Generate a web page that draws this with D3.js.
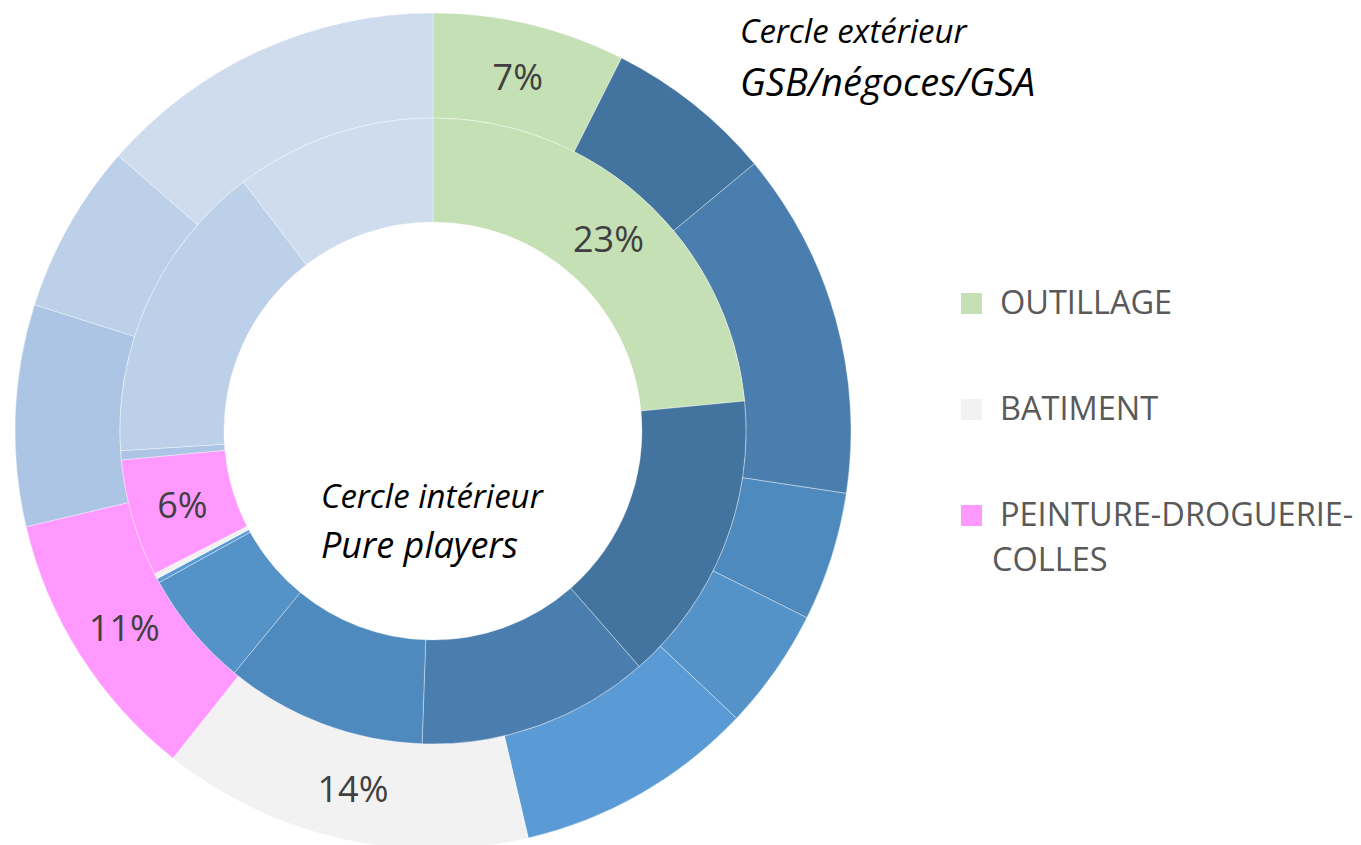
<!DOCTYPE html>
<html>
<head>
<meta charset="utf-8">
<script src="https://cdn.jsdelivr.net/npm/d3@7"></script>
<style>
  body { margin: 0; background: #fff; }
  svg { display: block; font-family: "Open Sans", sans-serif; }
</style>
</head>
<body>
<svg id="chart"></svg>
<script>
const svgWidth = 1361;
const svgHeight = 845;

// slices, clockwise from 12 o'clock (only 3 are named in the legend)
const categories = ["OUTILLAGE", "cat2", "cat3", "cat4", "cat5", "cat6",
                    "BATIMENT", "PEINTURE-DROGUERIE-COLLES", "cat9", "cat10", "cat11"];
const colors = ["#c5e0b4", "#43739f", "#4a7eae", "#4f8abe", "#5592c8", "#5b9bd5",
                "#f2f2f2", "#ff99ff", "#adc5e4", "#bdd0e9", "#cfdcee"];
// outer ring : GSB/négoces/GSA (%)
const outerValues = [7.45, 6.51, 13.43, 4.99, 4.69, 9.28, 14.35, 10.64, 8.56, 6.56, 13.56];
// inner ring : pure players (%)
const innerValues = [23.47, 15.08, 12.0, 10.39, 6.01, 0.22, 0.29, 6.06, 0.47, 15.64, 10.36];
// which slices get a percentage label
const outerLabelled = ["OUTILLAGE", "BATIMENT", "PEINTURE-DROGUERIE-COLLES"];
const innerLabelled = ["OUTILLAGE", "PEINTURE-DROGUERIE-COLLES"];
const legendItems = ["OUTILLAGE", "BATIMENT", "PEINTURE-DROGUERIE-COLLES"];

const cx = 433, cy = 431;
const rOuter = 418, rMid = 313, rInner = 209;

const svg = d3.select("#chart")
    .attr("width", svgWidth)
    .attr("height", svgHeight);

const color = d3.scaleOrdinal().domain(categories).range(colors);
const pct = d3.format(".0%");

const pie = d3.pie().sort(null).value(d => d.value);

function drawRing(values, r0, r1, labelled) {
  let data = pie(values.map((v, i) => ({cat: categories[i], value: v})));
  let arc = d3.arc().innerRadius(r0).outerRadius(r1);
  let g = svg.append("g").attr("transform", `translate(${cx},${cy})`);

  g.selectAll("path")
    .data(data)
    .enter()
    .append("path")
      .attr("d", arc)
      .attr("fill", d => color(d.data.cat))
      .attr("stroke", "#fff")
      .attr("stroke-width", 0.6)
      .attr("stroke-opacity", 0.6);

  g.selectAll("text")
    .data(data.filter(d => labelled.includes(d.data.cat)))
    .enter()
    .append("text")
      .attr("transform", d => `translate(${arc.centroid(d)})`)
      .attr("text-anchor", "middle")
      .attr("dy", "0.4em")
      .attr("font-size", 36)
      .attr("fill", "#404040")
      .text(d => pct(d.data.value / 100));
}

drawRing(outerValues, rMid, rOuter, outerLabelled);
drawRing(innerValues, rInner, rMid, innerLabelled);

// ring titles
const titles = svg.append("g").attr("font-style", "italic").attr("fill", "#000");
titles.append("text").attr("x", 740).attr("y", 43).attr("font-size", 33).text("Cercle extérieur");
titles.append("text").attr("x", 740).attr("y", 96).attr("font-size", 38).text("GSB/négoces/GSA");
titles.append("text").attr("x", 321).attr("y", 508).attr("font-size", 33).text("Cercle intérieur");
titles.append("text").attr("x", 321).attr("y", 558).attr("font-size", 36).text("Pure players");

// legend
const legend = svg.append("g")
    .selectAll("g")
    .data(legendItems)
    .enter()
    .append("g")
      .attr("transform", (d, i) => `translate(961, ${293 + i * 106})`);

legend.append("rect")
    .attr("width", 21)
    .attr("height", 21)
    .attr("fill", d => color(d));

legend.each(function (d) {
  // long labels wrap after their last hyphen
  let lines = d.length > 20 ? [d.slice(0, d.lastIndexOf("-") + 1), d.slice(d.lastIndexOf("-") + 1)] : [d];
  let t = d3.select(this).append("text")
      .attr("font-size", 32.5)
      .attr("fill", "#595959");
  lines.forEach((line, j) => {
    t.append("tspan")
      .attr("x", j ? 31 : 39)
      .attr("y", 21 + j * 45)
      .text(line);
  });
});
</script>
</body>
</html>
